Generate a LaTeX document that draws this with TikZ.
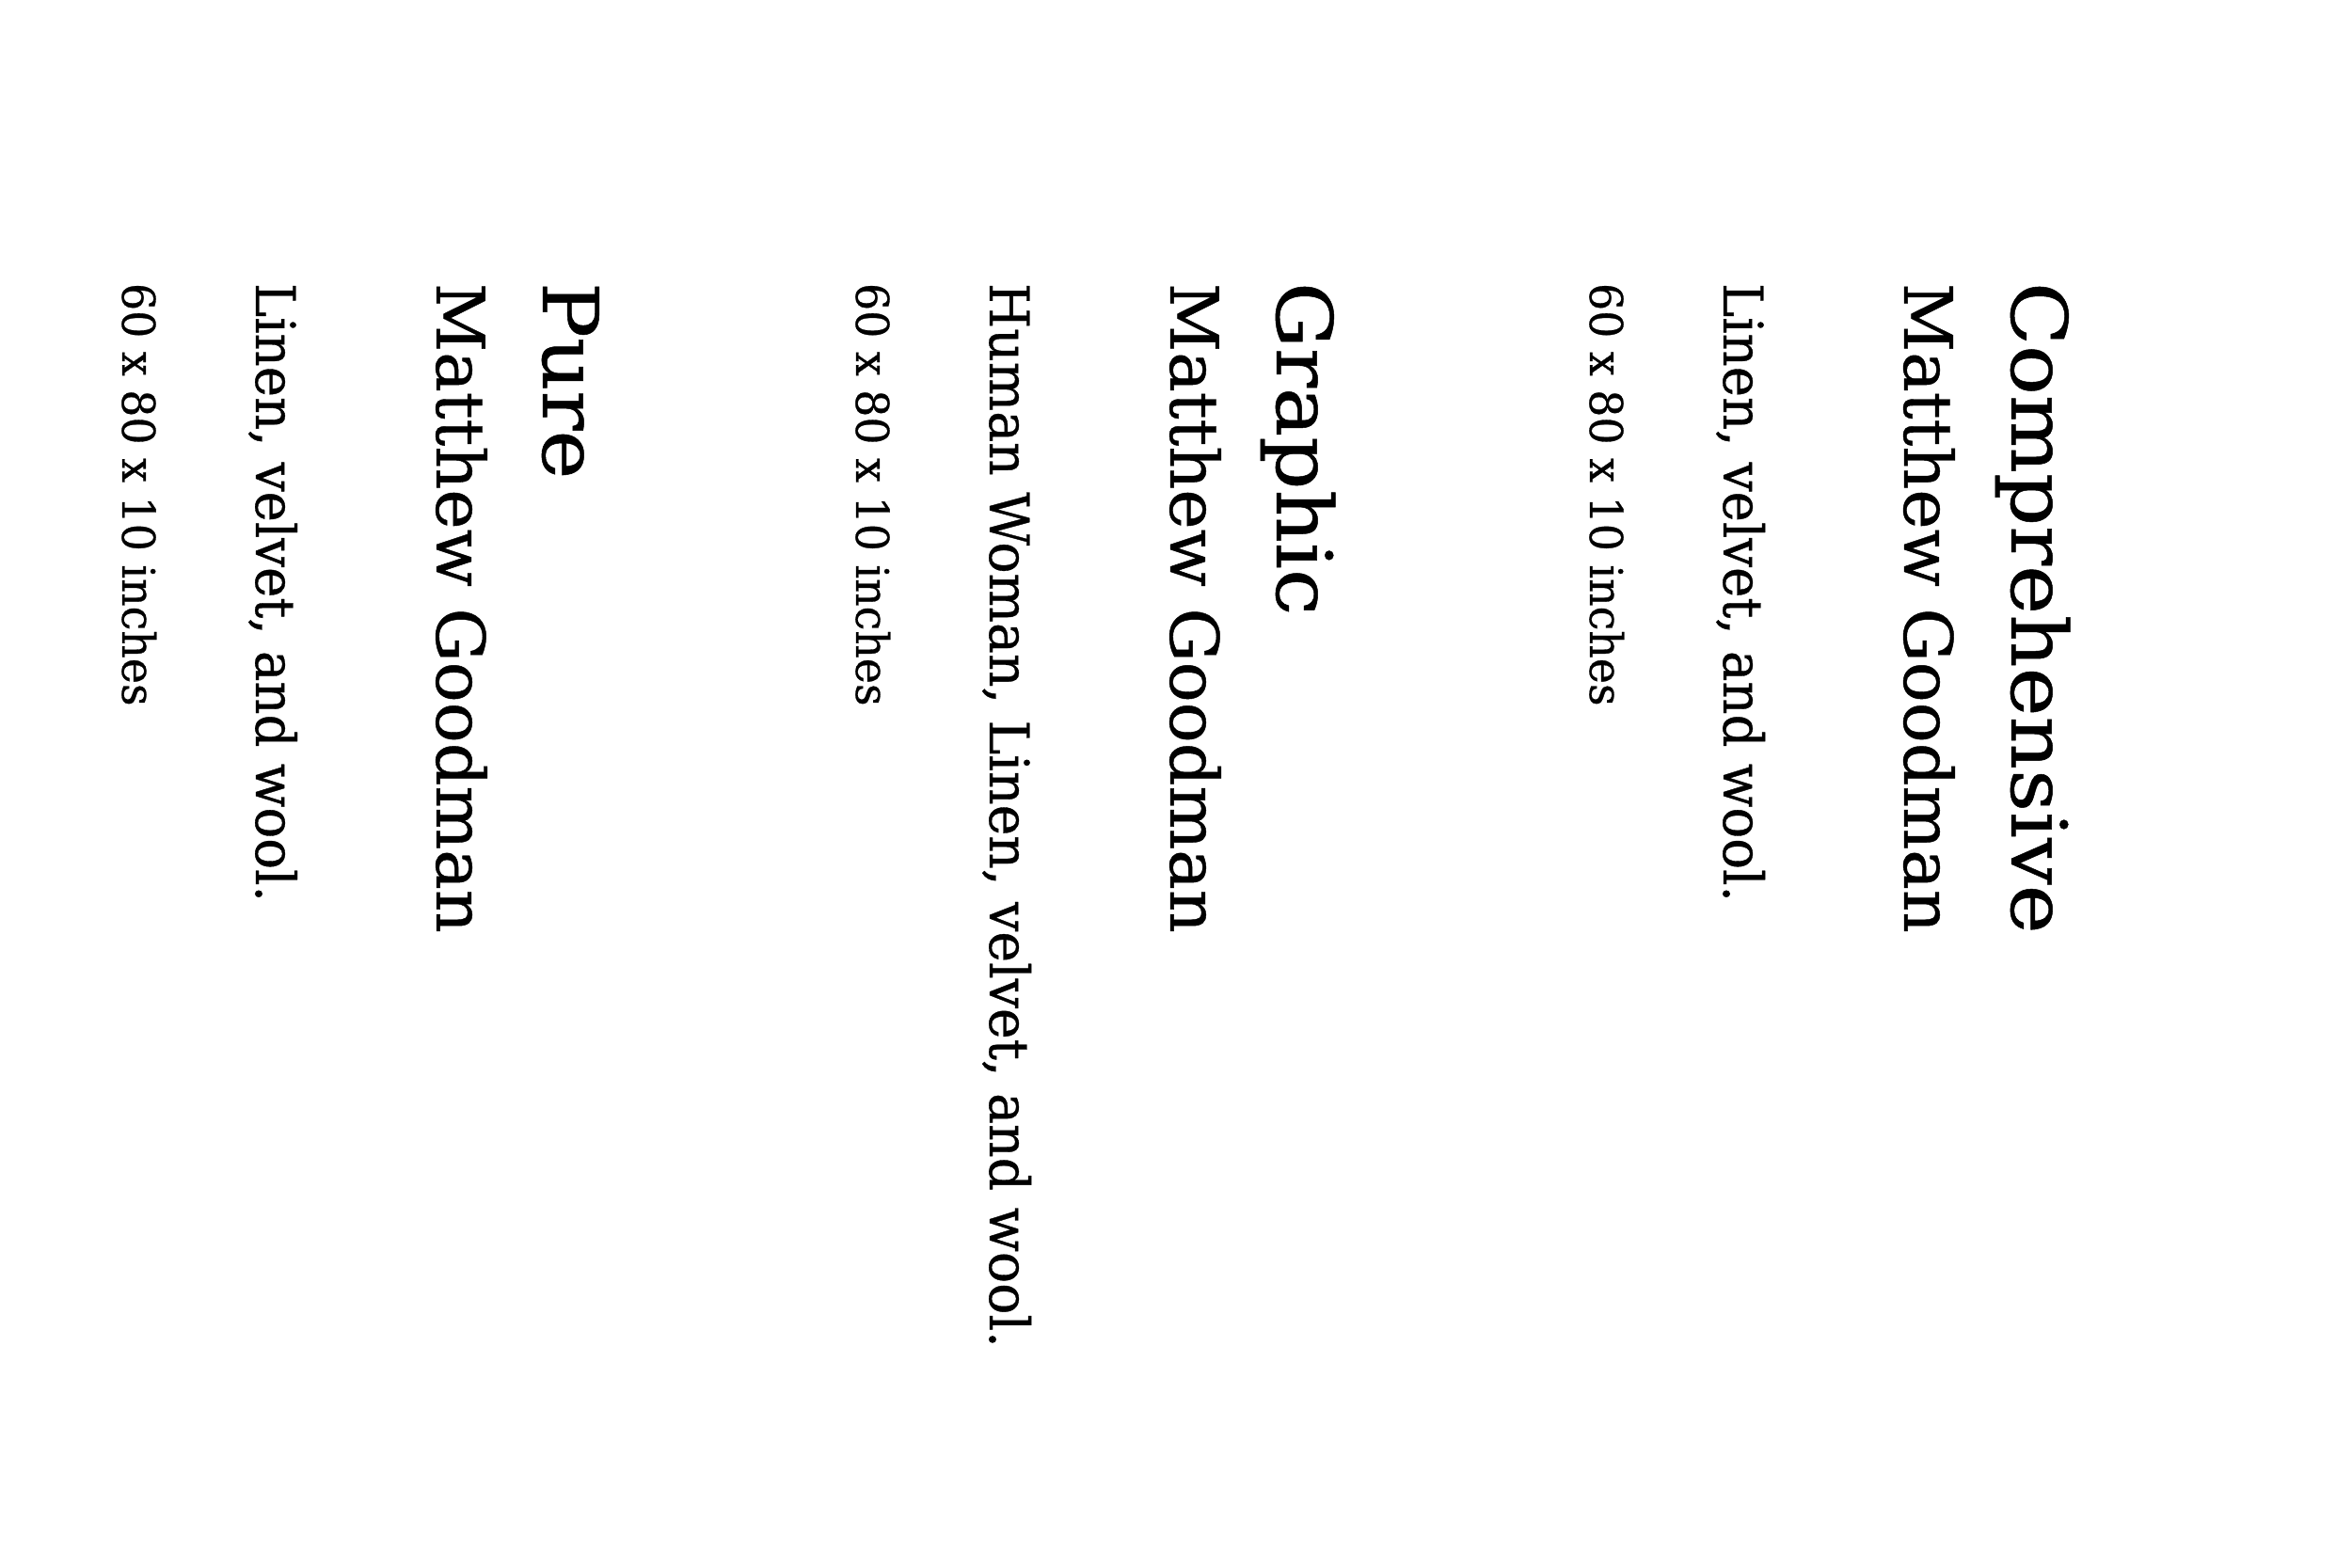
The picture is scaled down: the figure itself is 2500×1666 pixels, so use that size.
\documentclass[tikz,border=0pt]{standalone}
\usepackage{fontspec}
\setmainfont{DejaVu Serif}
\newfontfamily\ttlfont[FakeStretch=1.07,FakeBold=0.6]{DejaVu Serif}
\newfontfamily\authfont[FakeStretch=1.007,FakeBold=0.6]{DejaVu Serif}
\newfontfamily\medfont[FakeStretch=0.94,FakeBold=0.6]{DejaVu Serif}
\newfontfamily\medwfont[FakeStretch=0.953,FakeBold=0.6]{DejaVu Serif}
\newfontfamily\dimsfont[FakeStretch=0.955,FakeBold=0.6]{DejaVu Serif}
\tikzset{
  lbl/.style={rotate=-90, anchor=base west, inner sep=0pt, outer sep=0pt, text=black},
  ttl/.style={lbl, font=\ttlfont\fontsize{82}{90}\selectfont},
  auth/.style={lbl, font=\authfont\fontsize{71}{80}\selectfont},
  med/.style={lbl, font=\medfont\fontsize{58}{66}\selectfont},
  medw/.style={lbl, font=\medwfont\fontsize{58}{66}\selectfont},
  dims/.style={lbl, font=\dimsfont\fontsize{48}{56}\selectfont},
}
\begin{document}
\begin{tikzpicture}[x=1pt,y=-1pt]
\useasboundingbox[fill=white] (0,0) rectangle (2500,1666);
% group 1 (right)
\node[ttl]  (t1) at (2138,300) {Comprehensive};
\node[auth] (a1) at (2024,301) {Matthew Goodman};
\node[med]  (m1) at (1832,301) {Linen, velvet, and wool.};
\node[dims] (d1) at (1690,301) {60 x 80 x 10 inches};
% group 2 (middle)
\node[ttl]  (t2) at (1357,300) {Graphic};
\node[auth] (a2) at (1244,301) {Matthew Goodman};
\node[medw] (m2) at (1052,301) {Human Woman, Linen, velvet, and wool.};
\node[dims] (d2) at (910,301) {60 x 80 x 10 inches};
% group 3 (left)
\node[ttl]  (t3) at (577,300) {Pure};
\node[auth] (a3) at (464,301) {Matthew Goodman};
\node[med]  (m3) at (272,301) {Linen, velvet, and wool.};
\node[dims] (d3) at (130,301) {60 x 80 x 10 inches};
\end{tikzpicture}
\end{document}
